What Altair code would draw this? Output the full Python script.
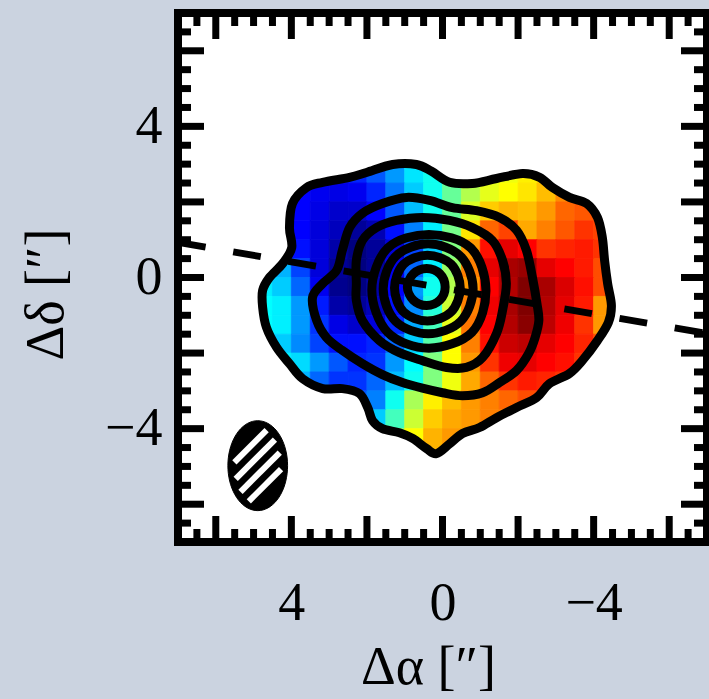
import math

import altair as alt
import pandas as pd

# ---------------------------------------------------------------- data ----
# Velocity map sampled on a 0.5" grid (cell centres, arcsec offsets).
cell_dx = [4.75, 4.25, 3.75, 3.25, 2.75, 2.25, 1.75, 1.25, 0.75, 0.25,
           -0.25, -0.75, -1.25, -1.75, -2.25, -2.75, -3.25, -3.75, -4.25, -4.75]
cell_dy = [2.75, 2.25, 1.75, 1.25, 0.75, 0.25, -0.25, -0.75, -1.25, -1.75,
           -2.25, -2.75, -3.25, -3.75, -4.25, -4.75]

N = None
# relative line-of-sight velocity, one row per cell_dy, columns follow cell_dx
velocity_rows = [
    [N, N, N, -72, -72, -68, -58, -45, -30, -22, -5, 10, 18, 22, 28, 32, N, N, N, N],
    [N, -72, -75, -78, -80, -78, -68, -52, -35, -22, -5, 10, 20, 25, 30, 38, 48, 50, N, N],
    [N, -70, -75, -80, -85, -85, -75, -58, -38, -22, -5, 18, 35, 40, 38, 45, 55, 58, 55, N],
    [N, -70, -75, -82, -88, -95, -90, -72, -50, -28, -2, 30, 55, 62, 42, 50, 58, 65, 62, N],
    [N, -65, -72, -82, -92, -100, -95, -82, -62, -35, 0, 45, 72, 80, 75, 65, 68, 70, 65, N],
    [-35, -40, -62, -82, -95, -100, -95, -78, -55, -28, 5, 50, 80, 92, 95, 80, 75, 70, 60, N],
    [-28, -35, -55, -78, -97, -100, -92, -75, -45, -22, 10, 45, 75, 90, 100, 92, 82, 72, 60, N],
    [-25, -28, -45, -70, -92, -95, -88, -72, -48, -18, 15, 50, 78, 92, 100, 90, 80, 70, 45, N],
    [-25, -28, -45, -65, -80, -85, -82, -68, -42, -12, 20, 52, 75, 90, 98, 88, 78, 65, 45, N],
    [-30, -35, -48, -62, -72, -72, -68, -55, -35, -8, 25, 50, 72, 85, 88, 80, 75, 68, 60, N],
    [N, -28, -32, -45, -58, -68, -65, -45, -25, 0, 25, 45, 65, 78, 80, 75, 72, 65, N, N],
    [N, N, -40, -55, -65, -65, -55, -38, -22, 0, 22, 42, 55, 65, 70, 68, 65, N, N, N],
    [N, N, N, N, -60, -58, -50, -22, 8, 28, 38, 45, 50, 55, 60, 62, N, N, N, N],
    [N, N, N, N, N, -45, -35, -12, 15, 35, 42, 45, 50, 50, N, N, N, N, N, N],
    [N, N, N, N, N, N, N, 5, 25, 40, 45, 45, N, N, N, N, N, N, N, N],
    [N, N, N, N, N, N, N, N, 30, 40, 45, N, N, N, N, N, N, N, N, N],
]

# Intensity contours (dx, dy) in arcsec, traced clockwise on the sky image.
outer_contour = [
    (3.97, 1.96), (3.60, 2.38), (3.17, 2.52), (2.46, 2.65), (2.01, 2.78),
    (1.32, 2.99), (0.69, 2.99), (0.29, 2.81), (-0.19, 2.52), (-0.79, 2.49),
    (-1.43, 2.62), (-2.12, 2.75), (-2.57, 2.65), (-2.91, 2.38), (-3.36, 2.12),
    (-3.81, 1.96), (-4.10, 1.59), (-4.23, 1.06), (-4.29, 0.45), (-4.37, -0.16),
    (-4.47, -0.74), (-4.39, -1.19), (-4.10, -1.67), (-3.70, -2.20), (-3.36, -2.54),
    (-2.83, -2.81), (-2.49, -3.18), (-1.96, -3.44), (-1.43, -3.71), (-0.98, -3.97),
    (-0.53, -4.13), (-0.19, -4.40), (0.16, -4.66), (0.42, -4.53), (0.79, -4.26),
    (1.14, -4.11), (1.59, -4.00), (1.85, -3.79), (1.98, -3.44), (2.20, -3.07),
    (2.65, -2.94), (3.17, -2.94), (3.70, -2.68), (4.05, -2.28), (4.39, -1.85),
    (4.66, -1.32), (4.76, -0.79), (4.76, -0.34), (4.58, 0.00), (4.23, 0.37),
    (3.99, 0.79), (4.05, 1.32),
]
contour_2 = [
    (3.44, -0.53), (3.17, -0.16), (2.80, 0.19), (2.65, 0.72), (2.46, 1.32),
    (2.12, 1.70), (1.59, 1.96), (0.95, 2.12), (0.34, 2.04), (-0.26, 1.85),
    (-0.90, 1.77), (-1.51, 1.59), (-1.96, 1.25), (-2.22, 0.72), (-2.38, 0.00),
    (-2.50, -0.69), (-2.55, -1.14), (-2.45, -1.59), (-2.28, -2.01), (-1.96, -2.46),
    (-1.51, -2.78), (-1.06, -3.05), (-0.53, -3.13), (0.00, -3.05), (0.53, -2.93),
    (1.06, -2.78), (1.59, -2.57), (2.12, -2.28), (2.65, -1.93), (3.07, -1.59),
    (3.33, -1.14),
]
contour_3 = [
    (2.28, -0.16), (2.28, 0.45), (2.12, 0.98), (1.75, 1.32), (1.22, 1.51),
    (0.53, 1.59), (-0.19, 1.51), (-0.79, 1.32), (-1.32, 0.98), (-1.59, 0.45),
    (-1.69, -0.16), (-1.59, -0.87), (-1.43, -1.48), (-1.06, -2.12), (-0.63, -2.38),
    (-0.11, -2.38), (0.53, -2.20), (1.14, -1.99), (1.67, -1.67), (2.12, -1.14),
    (2.28, -0.61),
]
contour_4 = [(1.87, -0.33), (1.45, 0.78), (0.36, 1.14), (-0.75, 0.78),
             (-1.15, -0.33), (-0.78, -1.45), (0.36, -1.87), (1.45, -1.45)]
contour_5 = [(1.57, -0.30), (1.24, 0.56), (0.38, 0.89), (-0.48, 0.56),
             (-0.81, -0.30), (-0.48, -1.16), (0.38, -1.49), (1.24, -1.16)]
contour_6 = [(1.27, -0.28), (1.03, 0.35), (0.40, 0.59), (-0.23, 0.35),
             (-0.47, -0.28), (-0.23, -0.91), (0.40, -1.15), (1.03, -0.91)]
contour_7 = [(0.93, -0.25), (0.77, 0.10), (0.42, 0.24), (0.07, 0.10),
             (-0.07, -0.25), (0.07, -0.60), (0.42, -0.74), (0.77, -0.60)]

# Kinematic major axis (end points at the map edges)
major_axis_dx = [7.0, -7.0]
major_axis_dy = [0.93, -1.48]

# Synthesised beam: centre (arcsec), FWHM major / minor (arcsec), PA (deg)
beam_center = (4.89, -4.98)
beam_major, beam_minor, beam_pa = 2.38, 1.58, 0.0

# Axis ticks
major_ticks = [-6, -4, -2, 0, 2, 4, 6]
minor_ticks = [-6.5, -5.5, -5, -4.5, -3.5, -3, -2.5, -1.5, -1, -0.5,
               0.5, 1, 1.5, 2.5, 3, 3.5, 4.5, 5, 5.5, 6.5]
label_ticks = [-4, 0, 4]

# --------------------------------------------------------------- style ----
FONT = "Liberation Serif"
BG = "#cbd3e0"
W = H = 529
LIM = 7.0
CONTOUR_W = 9
TICK_W = 7
MAJOR_LEN, MINOR_LEN = 26, 13
HATCH_OFFSETS = [-0.50, -0.167, 0.167, 0.50]
HATCH_MARGIN = 0.17

jet_domain = [-100, -75, -50, -25, 0, 25, 50, 75, 100]
jet_range = ["#000080", "#0000ff", "#0080ff", "#00ffff", "#80ff80",
             "#ffff00", "#ff8000", "#ff0000", "#800000"]

xs = alt.Scale(domain=[LIM, -LIM], nice=False, zero=False)
ys = alt.Scale(domain=[-LIM, LIM], nice=False, zero=False)
cs = alt.Scale(domain=jet_domain, range=jet_range, interpolate="rgb")

x_axis = alt.Axis(values=label_ticks, ticks=False, domain=False, grid=False,
                  labelFont=FONT, labelFontSize=54, labelColor="black",
                  labelPadding=34, labelFlush=False,
                  title="Δα  [″]", titleFont=FONT, titleFontSize=54,
                  titleFontWeight="normal", titleColor="black",
                  titleX=250, titleY=125, titleAlign="center",
                  titleBaseline="middle", zindex=1)
y_axis = alt.Axis(values=label_ticks, ticks=False, domain=False, grid=False,
                  labelFont=FONT, labelFontSize=54, labelColor="black",
                  labelPadding=16, labelFlush=False,
                  title="Δδ  [″]", titleFont=FONT, titleFontSize=54,
                  titleFontWeight="normal", titleColor="black",
                  titleAngle=270, titleX=-132, titleY=281, titleAlign="center",
                  titleBaseline="middle", zindex=1)


def X(field):
    return alt.X(field, type="quantitative", scale=xs, axis=x_axis)


def Y(field):
    return alt.Y(field, type="quantitative", scale=ys, axis=y_axis)


# ---------------------------------------------------------- velocity map ----
cells = []
for j, yc in enumerate(cell_dy):
    for i, xc in enumerate(cell_dx):
        v = velocity_rows[j][i]
        if v is None:
            continue
        cells.append({"x": xc + 0.25, "x2": xc - 0.25,
                      "y": yc - 0.25, "y2": yc + 0.25, "v": v})
cells = pd.DataFrame(cells)

vmap = alt.Chart(cells).mark_rect(strokeWidth=0.8).encode(
    x=X("x"), x2="x2", y=Y("y"), y2="y2",
    color=alt.Color("v:Q", scale=cs, legend=None),
    stroke=alt.Stroke("v:Q", scale=cs, legend=None),
)

# White cover outside the outermost contour (frame with a contour-shaped hole)
k = max(range(len(outer_contour)), key=lambda i: outer_contour[i][0])
ring = outer_contour[k:] + outer_contour[:k] + [outer_contour[k]]
ky = outer_contour[k][1]
frame_path = [(LIM, ky), (LIM, -LIM), (-LIM, -LIM), (-LIM, LIM), (LIM, LIM), (LIM, ky)]
mask_pts = ring + frame_path + [outer_contour[k]]
mask_df = pd.DataFrame({"x": [p[0] for p in mask_pts],
                        "y": [p[1] for p in mask_pts],
                        "i": range(len(mask_pts))})
mask = alt.Chart(mask_df).mark_line(
    fill="white", stroke="white", strokeWidth=0.5, interpolate="linear"
).encode(x=X("x"), y=Y("y"), order="i:Q")

# ---------------------------------------------------------------- contours ----
contour_rows = []
for name, pts in [("c1", outer_contour), ("c2", contour_2), ("c3", contour_3),
                  ("c4", contour_4), ("c5", contour_5), ("c6", contour_6),
                  ("c7", contour_7)]:
    for i, (cx, cy) in enumerate(pts):
        contour_rows.append({"level": name, "i": i, "x": cx, "y": cy})
contour_df = pd.DataFrame(contour_rows)
contours = alt.Chart(contour_df).mark_line(
    color="black", strokeWidth=CONTOUR_W, interpolate="cardinal-closed",
    strokeJoin="round"
).encode(x=X("x"), y=Y("y"), detail="level:N", order="i:Q")

# ------------------------------------------------------------ major axis ----
axis_df = pd.DataFrame({"x": [major_axis_dx[0]], "x2": [major_axis_dx[1]],
                        "y": [major_axis_dy[0]], "y2": [major_axis_dy[1]]})
pa_line = alt.Chart(axis_df).mark_rule(
    color="black", strokeWidth=7, strokeDash=[28, 28], strokeCap="butt"
).encode(x=X("x"), x2="x2", y=Y("y"), y2="y2")

# ------------------------------------------------------------------ beam ----
bcx, bcy = beam_center
pa = math.radians(beam_pa)
a_maj, a_min = beam_major / 2, beam_minor / 2
beam_pts = []
for s in range(73):
    t = 2 * math.pi * s / 72
    u, w = a_min * math.cos(t), a_maj * math.sin(t)
    beam_pts.append((bcx + u * math.cos(pa) + w * math.sin(pa),
                     bcy - u * math.sin(pa) + w * math.cos(pa)))
beam_df = pd.DataFrame({"x": [p[0] for p in beam_pts],
                        "y": [p[1] for p in beam_pts],
                        "i": range(len(beam_pts))})
beam = alt.Chart(beam_df).mark_line(
    fill="black", stroke="black", strokeWidth=1
).encode(x=X("x"), y=Y("y"), order="i:Q")

# hatching: white stripes running up-right on screen, clipped to the beam
ux, uy = -1 / math.sqrt(2), 1 / math.sqrt(2)
nx, ny = 1 / math.sqrt(2), 1 / math.sqrt(2)
ai, bi = a_min - HATCH_MARGIN, a_maj - HATCH_MARGIN
hatch = []
for d in HATCH_OFFSETS:
    px, py = d * nx, d * ny
    A = (ux / ai) ** 2 + (uy / bi) ** 2
    B = 2 * (px * ux / ai ** 2 + py * uy / bi ** 2)
    C = (px / ai) ** 2 + (py / bi) ** 2 - 1
    disc = B * B - 4 * A * C
    if disc <= 0:
        continue
    t1 = (-B - math.sqrt(disc)) / (2 * A)
    t2 = (-B + math.sqrt(disc)) / (2 * A)
    hatch.append({"x": bcx + px + t1 * ux, "y": bcy + py + t1 * uy,
                  "x2": bcx + px + t2 * ux, "y2": bcy + py + t2 * uy})
hatch_df = pd.DataFrame(hatch)
beam_hatch = alt.Chart(hatch_df).mark_rule(
    color="white", strokeWidth=6, strokeCap="butt"
).encode(x=X("x"), x2="x2", y=Y("y"), y2="y2")

# ----------------------------------------------------- inward tick marks ----
def tick_layers(values, length):
    df_x = pd.DataFrame({"x": values})
    df_y = pd.DataFrame({"y": values})
    style = dict(color="black", strokeWidth=TICK_W, strokeCap="butt")
    bottom = alt.Chart(df_x).mark_rule(**style).encode(
        x=X("x"), y=alt.value(H), y2=alt.value(H - length))
    top = alt.Chart(df_x).mark_rule(**style).encode(
        x=X("x"), y=alt.value(0), y2=alt.value(length))
    left = alt.Chart(df_y).mark_rule(**style).encode(
        y=Y("y"), x=alt.value(0), x2=alt.value(length))
    right = alt.Chart(df_y).mark_rule(**style).encode(
        y=Y("y"), x=alt.value(W), x2=alt.value(W - length))
    return [bottom, top, left, right]


ticks = tick_layers(major_ticks, MAJOR_LEN) + tick_layers(minor_ticks, MINOR_LEN)

frame = alt.Chart(pd.DataFrame({"f": [0]})).mark_rect(
    fillOpacity=0, stroke="black", strokeWidth=8
).encode(x=alt.value(0), x2=alt.value(W), y=alt.value(0), y2=alt.value(H))

chart = alt.layer(
    vmap, mask, pa_line, contours, beam, beam_hatch, *ticks, frame
).properties(
    width=W, height=H,
    padding={"left": 178, "top": 13, "right": 2, "bottom": 157},
    autosize=alt.AutoSizeParams(type="none"),
    background=BG,
).configure_view(fill="white", strokeWidth=0)

chart.save("out.html", embed_options={"renderer": "svg", "actions": False})
